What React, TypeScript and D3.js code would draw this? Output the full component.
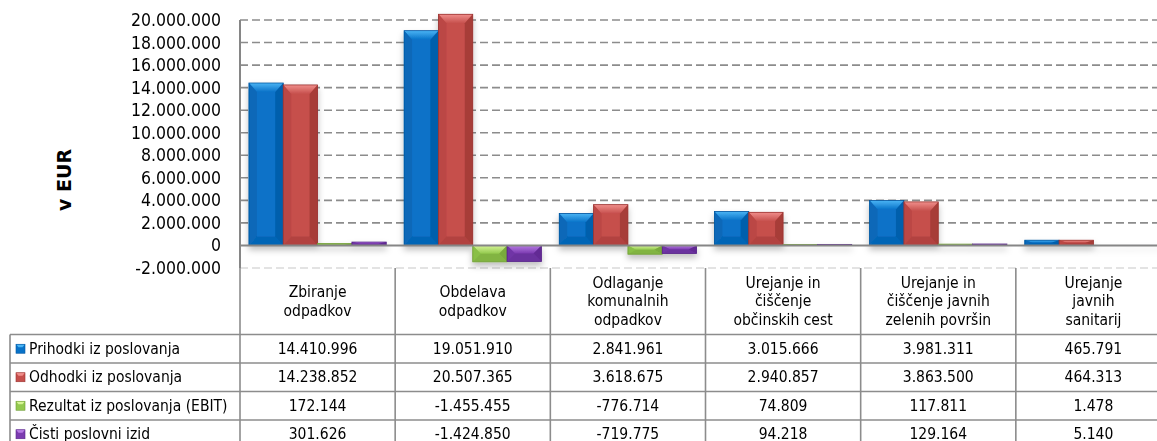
import React from 'react';
import * as d3 from 'd3';

const categories = [
  ['Zbiranje', 'odpadkov'],
  ['Obdelava', 'odpadkov'],
  ['Odlaganje', 'komunalnih', 'odpadkov'],
  ['Urejanje in', 'čiščenje', 'občinskih cest'],
  ['Urejanje in', 'čiščenje javnih', 'zelenih površin'],
  ['Urejanje', 'javnih', 'sanitarij'],
];
const seriesNames = [
  'Prihodki iz poslovanja',
  'Odhodki iz poslovanja',
  'Rezultat iz poslovanja (EBIT)',
  'Čisti poslovni izid',
];
const prihodki = [14410996, 19051910, 2841961, 3015666, 3981311, 465791];
const odhodki = [14238852, 20507365, 3618675, 2940857, 3863500, 464313];
const rezultat = [172144, -1455455, -776714, 74809, 117811, 1478];
const cisti = [301626, -1424850, -719775, 94218, 129164, 5140];
const yTicks = [-2000000, 0, 2000000, 4000000, 6000000, 8000000, 10000000, 12000000, 14000000, 16000000, 18000000, 20000000];

// main fill, top bevel highlight, right/bottom shade, left shade
const palette = [
  { main: '#0872c8', light: '#4ab4f4', dark: '#0457a0', side: '#0868b8' },
  { main: '#c64f4c', light: '#f08e8b', dark: '#9a3431', side: '#bb4744' },
  { main: '#93c94f', light: '#d6f495', dark: '#6e9c35', side: '#89bf46' },
  { main: '#7b3bb0', light: '#b67ae4', dark: '#582589', side: '#7035a6' },
];

const W = 1157, H = 441;
const FONT = "'DejaVu Sans Condensed', 'DejaVu Sans', sans-serif";
const locale = d3.formatLocale({ decimal: ',', thousands: '.', grouping: [3], currency: ['', ''], minus: '-' });
const fmt = locale.format(',d');

export default function App() {
  const allSeries = [prihodki, odhodki, rezultat, cisti];
  const names = categories.map((c) => c.join(' '));

  const x0 = d3.scaleBand<string>().domain(names).range([240, 1171]).padding(0);
  const x1 = d3.scaleBand<number>().domain([0, 1, 2, 3]).range([0, x0.bandwidth()]).paddingInner(0).paddingOuter(0.26);
  const y = d3.scaleLinear().domain([-2000000, 20000000]).range([268, 20]);

  const headerTop = y(-2000000);
  const headerBottom = 334.5;
  const rowH = 28.5;
  const legendLeft = 10;
  const lineColor = '#8c8c8c';

  const bars: any[] = [];
  allSeries.forEach((vals, si) => {
    vals.forEach((v, ci) => {
      const bx = (x0(names[ci]) as number) + (x1(si) as number);
      const bw = x1.bandwidth();
      const top = Math.min(y(v), y(0));
      const bh = Math.abs(y(v) - y(0));
      bars.push({ key: `${si}-${ci}`, si, bx, bw, top, bh });
    });
  });

  const bevel = (b: any) => {
    const c = palette[b.si];
    const bt = Math.min(9, b.bh / 2);
    const bs = Math.min(8, b.bw / 2);
    const { bx, bw, top, bh } = b;
    return (
      <g key={b.key}>
        <rect x={bx} y={top} width={bw} height={bh} fill={c.main} />
        <polygon points={`${bx},${top} ${bx + bw},${top} ${bx + bw - bs},${top + bt} ${bx + bs},${top + bt}`} fill={`url(#top${b.si})`} />
        <polygon points={`${bx},${top} ${bx + bs},${top + bt} ${bx + bs},${top + bh - bt} ${bx},${top + bh}`} fill={c.side} />
        <polygon points={`${bx + bw},${top} ${bx + bw - bs},${top + bt} ${bx + bw - bs},${top + bh - bt} ${bx + bw},${top + bh}`} fill={c.dark} opacity={0.7} />
        <polygon points={`${bx},${top + bh} ${bx + bs},${top + bh - bt} ${bx + bw - bs},${top + bh - bt} ${bx + bw},${top + bh}`} fill={c.dark} opacity={0.45} />
        <rect x={bx} y={top} width={bw} height={bh} fill="none" stroke={c.dark} strokeWidth={0.8} />
      </g>
    );
  };

  const colEdges = names.map((n) => x0(n) as number).concat([1171]);

  return (
    <div style={{ position: 'absolute', left: 0, top: 0 }}>
      <svg width={W} height={H} style={{ display: 'block', background: '#fff' }} fontFamily={FONT}>
        <defs>
          {palette.map((c, i) => (
            <linearGradient key={i} id={`top${i}`} x1="0" y1="0" x2="0" y2="1">
              <stop offset="0" stopColor={c.light} />
              <stop offset="1" stopColor={c.main} />
            </linearGradient>
          ))}
          <filter id="shadow" x="-10%" y="-10%" width="120%" height="130%">
            <feDropShadow dx="0" dy="4" stdDeviation="3" floodColor="#000" floodOpacity="0.25" />
          </filter>
        </defs>

        {/* gridlines */}
        {yTicks.filter((t) => t !== 0).map((t) => (
          <line key={t} x1={240} x2={1171} y1={y(t)} y2={y(t)} stroke={t < 0 ? '#c8c8c8' : lineColor} strokeWidth={t < 0 ? 1.2 : 1.6} strokeDasharray="8,4" />
        ))}

        {/* bars */}
        <g filter="url(#shadow)">{bars.map(bevel)}</g>

        {/* zero line and y axis */}
        <line x1={240} x2={1171} y1={y(0)} y2={y(0)} stroke="#868686" strokeWidth={2} />
        <line x1={240} x2={240} y1={y(20000000)} y2={headerTop} stroke="#868686" strokeWidth={2} />

        {/* y tick labels */}
        {yTicks.map((t) => (
          <text key={t} x={221} y={y(t)} textAnchor="end" dominantBaseline="central" fontSize={17.5} fill="#000">
            {fmt(t)}
          </text>
        ))}
        <text transform={`translate(64,180) rotate(-90)`} textAnchor="middle" dominantBaseline="central" fontSize={19} fontWeight="bold" fontFamily="'DejaVu Sans', sans-serif">
          v EUR
        </text>

        {/* data table */}
        <g stroke={lineColor} strokeWidth={1.6}>
          {colEdges.map((cx, i) => (
            <line key={`v${i}`} x1={cx} x2={cx} y1={headerTop} y2={H + 10} />
          ))}
          <line x1={legendLeft} x2={legendLeft} y1={headerBottom} y2={H + 10} />
          {[0, 1, 2, 3, 4].map((r) => (
            <line key={`h${r}`} x1={legendLeft} x2={1171} y1={headerBottom + r * rowH} y2={headerBottom + r * rowH} />
          ))}
        </g>

        {categories.map((lines, ci) => {
          const cx = (x0(names[ci]) as number) + x0.bandwidth() / 2;
          const lh = 18.5;
          const mid = (headerTop + headerBottom) / 2;
          return (
            <text key={ci} textAnchor="middle" fontSize={15.5} fill="#000">
              {lines.map((l, li) => (
                <tspan key={li} x={cx} y={mid + (li - (lines.length - 1) / 2) * lh} dominantBaseline="central">
                  {l}
                </tspan>
              ))}
            </text>
          );
        })}

        {allSeries.map((vals, si) => {
          const ry = headerBottom + si * rowH + rowH / 2;
          const c = palette[si];
          return (
            <g key={si}>
              <rect x={16} y={ry - 4.5} width={9} height={9} fill={c.main} />
              <polygon points={`16,${ry - 4.5} 25,${ry - 4.5} 22.5,${ry - 1.5} 18.5,${ry - 1.5}`} fill={c.light} />
              <rect x={16} y={ry - 4.5} width={9} height={9} fill="none" stroke={c.dark} strokeWidth={0.6} />
              <text x={29} y={ry} dominantBaseline="central" fontSize={15.5} fill="#000">
                {seriesNames[si]}
              </text>
              {vals.map((v, ci) => (
                <text key={ci} x={(x0(names[ci]) as number) + x0.bandwidth() / 2} y={ry} textAnchor="middle" dominantBaseline="central" fontSize={15.5} fill="#000">
                  {fmt(v)}
                </text>
              ))}
            </g>
          );
        })}
      </svg>
    </div>
  );
}
